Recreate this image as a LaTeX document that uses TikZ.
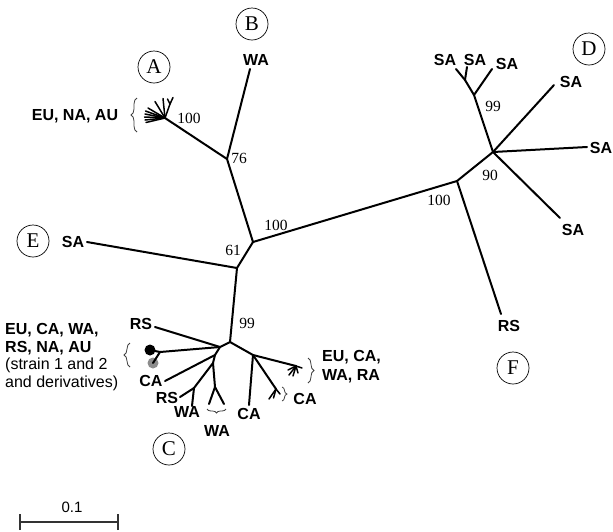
\documentclass[tikz,border=0pt]{standalone}
\usepackage{fontspec}
\setmainfont{Liberation Serif}
\newfontfamily\lsans{Liberation Sans}
\usetikzlibrary{decorations.pathreplacing}
\begin{document}
\begin{tikzpicture}[x=1pt,y=-1pt,
  br/.style={line width=2pt, line cap=round, line join=round},
  fan/.style={line width=1.5pt, line cap=round},
  lab/.style={font=\lsans\bfseries\fontsize{16}{18}\selectfont, inner sep=0pt},
  num/.style={font=\fontsize{15.5}{17}\selectfont, inner sep=0pt},
  circ/.style={draw, circle, line width=0.7pt, minimum size=32pt, inner sep=0pt, font=\fontsize{21}{23}\selectfont},
  brc/.style={decorate, decoration={brace, amplitude=#1}, line width=0.8pt, draw=black!75},
  brc/.default=6pt]
\useasboundingbox (0,0) rectangle (613,531);

% ---- internal nodes
\coordinate (n61) at (253,242);
\coordinate (nE) at (237,268);
\coordinate (n76) at (227,159);
\coordinate (nA) at (165,118);
\coordinate (nF) at (457,181);
\coordinate (nD) at (493,152);
\coordinate (n99D) at (474,95);
\coordinate (nDs) at (465,80);
\coordinate (n99) at (230,342);
\coordinate (c1) at (220,347);
\coordinate (cdot) at (160,352);
\coordinate (c2) at (215,355);
\coordinate (c3) at (213,363);
\coordinate (c4) at (194,388);
\coordinate (c5) at (215,387);
\coordinate (c6) at (253,355);
\coordinate (cfa) at (276,389);
\coordinate (cfb) at (296,366);

% ---- leaf ends
\coordinate (eB) at (250,69);
\coordinate (eE) at (87,242);
\coordinate (eF) at (501,314);
\coordinate (eD1) at (456,69);
\coordinate (eD2) at (467,67);
\coordinate (eD3) at (492,69);
\coordinate (eD4) at (554,85);
\coordinate (eD5) at (587,147);
\coordinate (eD6) at (560,218);
\coordinate (eC1) at (155,327);
\coordinate (eC2) at (165,381);
\coordinate (eC3) at (180,397);
\coordinate (eC4) at (192,406);
\coordinate (eC5) at (209,404);
\coordinate (eC6) at (224,404);
\coordinate (eC7) at (249,405);

% ---- backbone
\draw[br] (nE) -- (n61);
\draw[br] (n61) -- (n76);
\draw[br] (n76) -- (eB);
\draw[br] (n76) -- (nA);
\draw[br] (n61) -- (nF);
\draw[br] (nF) -- (eF);
\draw[br] (nF) -- (nD);
\draw[br] (nE) -- (eE);
\draw[br] (nE) -- (n99);

% ---- D cluster
\draw[br] (nD) -- (n99D);
\draw[br] (n99D) -- (nDs);
\draw[br] (nDs) -- (eD1);
\draw[br] (nDs) -- (eD2);
\draw[br] (n99D) -- (eD3);
\draw[br] (nD) -- (eD4);
\draw[br] (nD) -- (eD5);
\draw[br] (nD) -- (eD6);

% ---- A fan
\coordinate (ay) at (170,104);
\draw[fan] (nA) -- (ay);
\draw[fan] (ay) -- (167.5,99);
\draw[fan] (ay) -- (173,97.5);
\draw[fan] (nA) -- (163,98.5);
\draw[fan] (nA) -- (155,101.5);
\draw[fan] (nA) -- (148,108);
\draw[fan] (nA) -- (145.5,111);
\draw[fan] (nA) -- (145,114);
\draw[fan] (nA) -- (144.5,117);
\draw[fan] (nA) -- (145,120);
\draw[fan] (nA) -- (146,122.5);

% ---- C cluster
\draw[br] (n99) -- (c1);
\draw[br] (c1) -- (eC1);
\draw[br] (c1) -- (cdot);
\draw[br] (c1) -- (c2);
\draw[br] (c2) -- (eC2);
\draw[br] (c2) -- (c3);
\draw[br] (c3) -- (c4);
\draw[br] (c4) -- (eC3);
\draw[br] (c4) -- (eC4);
\draw[br] (c3) -- (c5);
\draw[br] (c5) -- (eC5);
\draw[br] (c5) -- (eC6);
\draw[br] (n99) -- (c6);
\draw[br] (c6) -- (eC7);
\draw[br] (c6) -- (cfa);
\draw[br] (c6) -- (cfb);
\node[circle, fill=black, minimum size=11pt, inner sep=0pt] (dotk) at (150,350) {};
\node[circle, fill=black!45, minimum size=11pt, inner sep=0pt] (dotg) at (153,363) {};
\draw[br] (cdot) -- (dotk.center);
\draw[br] (cdot) -- (dotg.center);

% small fans
\draw[fan] (cfa) -- (269,399);
\draw[fan] (cfa) -- (273.5,398);
\draw[fan] (cfa) -- (280,394);
\draw[fan] (cfb) -- (302,368);
\draw[fan] (cfb) -- (288,370);
\draw[fan] (cfb) -- (289,375);
\draw[fan] (cfb) -- (293,376);
\draw[fan] (cfb) -- (298,373);

% ---- braces
\draw[brc] (137,132) -- (137,98);
\draw[brc] (130,367) -- (130,343);
\draw[brc] (308,358) -- (308,383);
\draw[brc=5pt] (282,387) -- (282,401);
\draw[brc=4pt] (226,409) -- (207,409);

% ---- support values
\node[num] (v61) at (233,250) {61};
\node[num] (v100a) at (276,225) {100};
\node[num] (v76) at (239,158) {76};
\node[num] (v100b) at (189,118) {100};
\node[num] (v99D) at (493,106) {99};
\node[num] (v90) at (490,175) {90};
\node[num] (v100c) at (439,200) {100};
\node[num] (v99C) at (247,323) {99};

% ---- leaf labels
\node[lab] (lB) at (256,60) {WA};
\node[lab] (lE) at (73,242) {SA};
\node[lab] (lF) at (509,326) {RS};
\node[lab] (lD1) at (445,60) {SA};
\node[lab] (lD2) at (475,60) {SA};
\node[lab] (lD3) at (507,64) {SA};
\node[lab] (lD4) at (571,82) {SA};
\node[lab] (lD5) at (601,148) {SA};
\node[lab] (lD6) at (573,230) {SA};
\node[lab] (lA) at (75,116) {EU, NA, AU};
\node[lab] (lC1) at (141,324) {RS};
\node[lab] (lC2) at (151,381) {CA};
\node[lab] (lC3) at (167,398) {RS};
\node[lab] (lC4) at (187,412) {WA};
\node[lab] (lC5) at (217,431) {WA};
\node[lab] (lC6) at (249,414) {CA};
\node[lab] (lC7) at (305,399) {CA};
\node[lab, anchor=west, align=left] (lC8) at (322,367) {EU, CA,\\[1pt]WA, RA};
\node[anchor=west, align=left, inner sep=0pt, font=\lsans\fontsize{16}{17.7}\selectfont] (lC9) at (5,357)
  {\bfseries EU, CA, WA,\\\bfseries RS, NA, AU\\(strain 1 and 2\\and derivatives)};

% ---- clade circles
\node[circ] (cA) at (154,67) {A};
\node[circ] (cB) at (252,24) {B};
\node[circ] (cC) at (169,449) {C};
\node[circ] (cD) at (589,49) {D};
\node[circ] (cE) at (33,241) {E};
\node[circ] (cF) at (513,368) {F};

% ---- scale bar
\coordinate (s1) at (20,522);
\coordinate (s2) at (118,522);
\draw[line width=1.3pt, draw=black!80] (s1) -- (s2);
\draw[line width=1.3pt, draw=black!80] ([yshift=-8pt]s1) -- ([yshift=8pt]s1);
\draw[line width=1.3pt, draw=black!80] ([yshift=-8pt]s2) -- ([yshift=8pt]s2);
\node[font=\lsans\fontsize{15}{17}\selectfont, inner sep=0pt] (sl) at (72,507) {0.1};
\end{tikzpicture}
\end{document}
